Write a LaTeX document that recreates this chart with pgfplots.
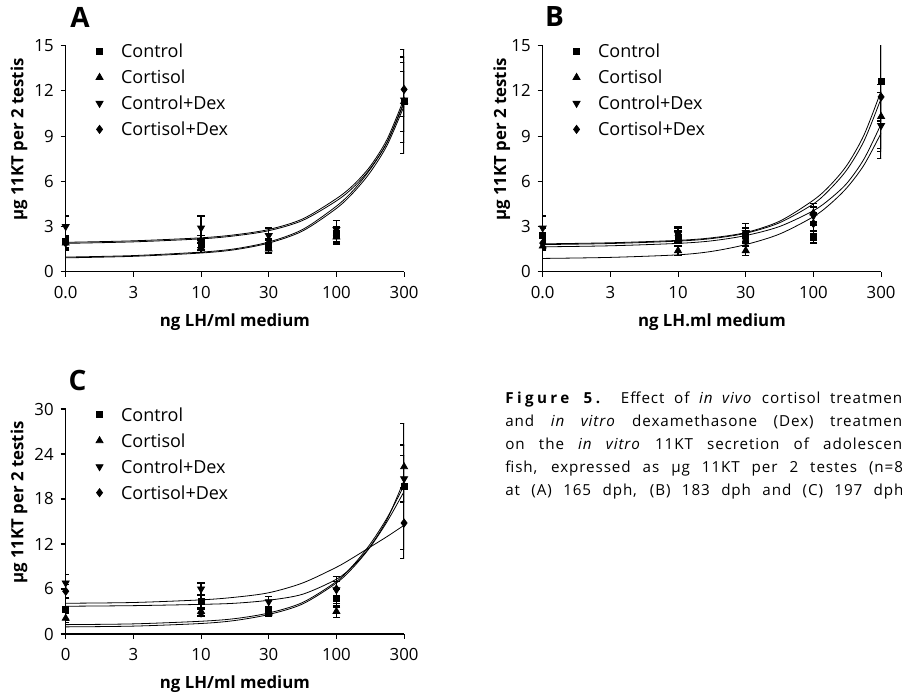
\documentclass[border=0pt]{standalone}
\usepackage{fontspec}
\setmainfont{Open Sans}
\usepackage{pgfplots}
\usepackage{pgfplotstable}
\pgfplotsset{compat=1.18}

% x positions: 0 -> "0.0", 1 -> 3, 2 -> 10, 3 -> 30, 4 -> 100, 5 -> 300
\pgfplotstableread{
x  ctl   ectl  cor   ecor  cdx   ecdx  kdx   ekdx
0  2.0   0.4   1.9   0.4   3.0   0.7   1.9   0.5
2  1.8   0.4   1.6   0.3   2.9   0.8   2.0   0.4
3  1.7   0.4   1.5   0.3   2.4   0.5   1.9   0.3
4  2.5   0.5   2.3   0.4   2.8   0.6   2.4   0.6
5  11.3  3.45  11.3  2.0   11.4  2.85  12.1  1.8
}\dataA
\pgfplotstableread{
x    a    b    c    d
0    1.95 1.88 0.97 0.92
1    2.05 1.98 1.07 1.02
2    2.25 2.18 1.30 1.24
2.5  2.45 2.38 1.52 1.46
3    2.80 2.72 1.97 1.90
3.5  3.50 3.40 2.80 2.70
4    4.85 4.70 4.35 4.20
4.25 5.75 5.60 5.40 5.25
4.5  7.00 6.85 6.80 6.60
4.75 8.80 8.60 8.60 8.40
5    11.5 11.3 11.2 11.0
}\fitA

\pgfplotstableread{
x  ctl   ectl  cor   ecor  cdx   ecdx  kdx   ekdx
0  2.4   0.5   1.7   0.3   2.9   0.8   1.9   0.4
2  2.3   0.4   1.4   0.3   2.5   0.5   2.4   0.5
3  2.4   0.5   1.4   0.3   2.6   0.6   2.1   0.4
4  2.3   0.4   3.9   0.6   3.7   0.6   3.2   0.7
5  12.6  2.6   10.3  2.1   9.7   2.2   11.6  3.6
}\dataB
\pgfplotstableread{
x    a    b    c    d
0    1.85 1.80 1.65 0.88
1    1.92 1.87 1.72 0.95
2    2.08 2.03 1.88 1.12
2.5  2.25 2.20 2.05 1.35
3    2.60 2.55 2.40 1.80
3.5  3.35 3.25 3.00 2.50
4    4.75 4.50 4.05 3.65
4.25 5.75 5.50 4.85 4.50
4.5  7.10 6.80 5.90 5.60
4.75 9.10 8.70 7.50 7.10
5    12.0 11.5 9.8  9.2
}\fitB

\pgfplotstableread{
x  ctl   ectl  cor   ecor  cdx   ecdx  kdx   ekdx
0  3.3   1.5   2.1   0.6   6.8   1.1   5.7   0.9
2  4.3   0.9   3.0   0.5   6.0   0.8   2.8   0.5
3  3.2   0.5   2.8   0.5   4.3   0.7   3.0   0.5
4  4.8   1.2   3.0   0.8   5.9   1.8   6.0   1.0
5  19.7  8.4   22.3  2.9   20.7  3.1   14.8  4.7
}\dataC
\pgfplotstableread{
x    a    b    c    d
0    4.10 3.70 1.25 0.95
1    4.20 3.78 1.35 1.05
2    4.55 3.95 1.70 1.40
2.5  4.90 4.10 2.05 1.80
3    5.50 4.50 2.80 2.60
3.5  6.80 5.30 4.20 4.00
4    8.90 7.30 7.00 6.80
4.25 10.2 9.10 9.20 8.90
4.5  11.6 11.7 12.0 11.6
4.75 13.0 15.3 15.5 15.0
5    14.5 20.5 19.8 19.0
}\fitC

\pgfplotsset{
  panel/.style={
    scale only axis, width=169.2pt,
    xmin=0, xmax=5, ymin=0,
    axis lines=left, axis line style={-, line width=0.55pt},
    tick align=outside, major tick length=2.5pt,
    tick style={black, line width=0.55pt},
    xtick={0,1,2,3,4,5},
    /pgf/number format/assume math mode=true,
    tick label style={font=\fontsize{8.4}{8.4}\selectfont},
    xticklabel style={yshift=-1.2pt},
    label style={font=\bfseries\fontsize{8.4}{8.4}\selectfont},
    ylabel={µg 11KT per 2 testis},
    xlabel style={at={(rel axis cs:0.5,0)}, anchor=center, yshift=-25pt},
    legend style={draw=none, fill=none, inner sep=0pt,
      at={(rel axis cs:0,1)}, anchor=north west, xshift=15pt, yshift=0.6pt,
      font=\fontsize{9}{9}\selectfont, row sep=6.5pt, column sep=9pt,
      nodes={inner sep=0pt, text height=6.5pt, text depth=0pt}},
    legend cell align=left,
  },
  pts/.style={only marks, black, mark options={solid, fill=black},
    error bars/y dir=both, error bars/y explicit,
    error bars/error bar style={line width=0.6pt, black},
    error bars/error mark options={rotate=90, mark size=1.8pt, line width=0.6pt, black}},
  fit/.style={no marks, black, line width=0.4pt, smooth, forget plot},
}

\begin{document}
\begin{tikzpicture}
\path[use as bounding box] (0,0) rectangle (451pt,348.5pt);

% ---------- A ----------
\begin{axis}[panel, at={(32.85pt,212.65pt)}, anchor=south west, height=113pt,
  ymax=15, ytick={0,3,...,15}, xticklabels={0.0,3,10,30,100,300},
  xlabel={ng LH/ml medium},
  ylabel style={at={(rel axis cs:0,0.585)}, anchor=center, yshift=23.4pt}]
\addplot[fit] table[x=x,y=a]{\fitA};
\addplot[fit] table[x=x,y=b]{\fitA};
\addplot[fit] table[x=x,y=c]{\fitA};
\addplot[fit] table[x=x,y=d]{\fitA};
\addplot[pts, mark=square*, mark size=1.5pt] table[x=x,y=ctl,y error=ectl]{\dataA};
\addlegendentry{Control}
\addplot[pts, mark=triangle*, mark size=2pt] table[x=x,y=cor,y error=ecor]{\dataA};
\addlegendentry{Cortisol}
\addplot[pts, mark=triangle*, mark size=2pt, mark options={rotate=180}] table[x=x,y=cdx,y error=ecdx]{\dataA};
\addlegendentry{Control+Dex}
\addplot[pts, mark=diamond*, mark size=2pt] table[x=x,y=kdx,y error=ekdx]{\dataA};
\addlegendentry{Cortisol+Dex}
\end{axis}

% ---------- B ----------
\begin{axis}[panel, at={(271.35pt,212.65pt)}, anchor=south west, height=113pt,
  ymax=15, ytick={0,3,...,15}, xticklabels={0.0,3,10,30,100,300},
  xlabel={ng LH.ml medium},
  ylabel style={at={(rel axis cs:0,0.585)}, anchor=center, yshift=20.5pt}]
\addplot[fit] table[x=x,y=a]{\fitB};
\addplot[fit] table[x=x,y=b]{\fitB};
\addplot[fit] table[x=x,y=c]{\fitB};
\addplot[fit] table[x=x,y=d]{\fitB};
\addplot[pts, mark=square*, mark size=1.5pt] table[x=x,y=ctl,y error=ectl]{\dataB};
\addlegendentry{Control}
\addplot[pts, mark=triangle*, mark size=2pt] table[x=x,y=cor,y error=ecor]{\dataB};
\addlegendentry{Cortisol}
\addplot[pts, mark=triangle*, mark size=2pt, mark options={rotate=180}] table[x=x,y=cdx,y error=ecdx]{\dataB};
\addlegendentry{Control+Dex}
\addplot[pts, mark=diamond*, mark size=2pt] table[x=x,y=kdx,y error=ekdx]{\dataB};
\addlegendentry{Cortisol+Dex}
\end{axis}

% ---------- C ----------
\begin{axis}[panel, at={(32.85pt,31.5pt)}, anchor=south west, height=112.5pt,
  ymax=30, ytick={0,6,...,30}, xticklabels={0,3,10,30,100,300},
  xlabel={ng LH/ml medium},
  ylabel style={at={(rel axis cs:0,0.584)}, anchor=center, yshift=23.4pt}]
\addplot[fit] table[x=x,y=a]{\fitC};
\addplot[fit] table[x=x,y=b]{\fitC};
\addplot[fit] table[x=x,y=c]{\fitC};
\addplot[fit] table[x=x,y=d]{\fitC};
\addplot[pts, mark=square*, mark size=1.5pt] table[x=x,y=ctl,y error=ectl]{\dataC};
\addlegendentry{Control}
\addplot[pts, mark=triangle*, mark size=2pt] table[x=x,y=cor,y error=ecor]{\dataC};
\addlegendentry{Cortisol}
\addplot[pts, mark=triangle*, mark size=2pt, mark options={rotate=180}] table[x=x,y=cdx,y error=ecdx]{\dataC};
\addlegendentry{Control+Dex}
\addplot[pts, mark=diamond*, mark size=2pt] table[x=x,y=kdx,y error=ekdx]{\dataC};
\addlegendentry{Cortisol+Dex}
\end{axis}

% panel letters
\node[font=\bfseries\fontsize{14}{14}\selectfont] at (40pt,340pt) {A};
\node[font=\bfseries\fontsize{14}{14}\selectfont] at (277.25pt,340pt) {B};
\node[font=\bfseries\fontsize{14}{14}\selectfont] at (38.75pt,158pt) {C};

% caption (runs past the right edge, as in the reference)
\node[anchor=north west, inner sep=0pt, text width=201.5pt, align=justify,
  font=\fontsize{7.6}{11.6}\selectfont\addfontfeature{LetterSpace=6}] at (252.5pt,153pt)
  {{\bfseries\addfontfeature{LetterSpace=22}Figure 5.} Effect of \textit{in vivo} cortisol treatment\linebreak
   and \textit{in vitro} dexamethasone (Dex) treatment\linebreak
   on the \textit{in vitro} 11KT secretion of adolescent\linebreak
   fish, expressed as µg 11KT per 2 testes (n=8)\linebreak
   at (A) 165 dph, (B) 183 dph and (C) 197 dph.\linebreak\null};
\end{tikzpicture}
\end{document}
